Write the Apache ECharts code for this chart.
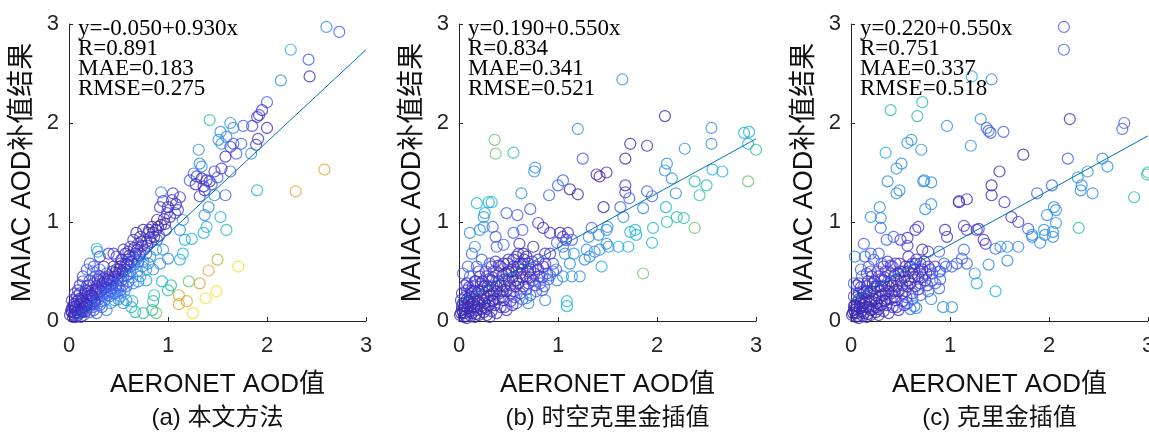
<!DOCTYPE html>
<html>
<head>
<meta charset="utf-8">
<script src="https://cdn.jsdelivr.net/npm/echarts@6/dist/echarts.min.js"></script>
<style>
html,body{margin:0;padding:0;background:#fff;}
#chart{width:1149px;height:435px;}
</style>
</head>
<body>
<div id="chart"></div>
<script>
// ---------------- data ----------------
const panelCaptions = ['(a) 本文方法', '(b) 时空克里金插值', '(c) 克里金插值'];
const xTitle = 'AERONET AOD值';
const yTitle = 'MAIAC AOD补值结果';
const axisTicks = [0, 1, 2, 3];
const intercepts = [-0.050, 0.190, 0.220];
const slopes = [0.930, 0.550, 0.550];
const rValues = [0.891, 0.834, 0.751];
const maeValues = [0.183, 0.341, 0.337];
const rmseValues = [0.275, 0.521, 0.518];
const fitStartX = [0.06, 0.02, 0.0];
const fitEndX = [3, 3, 3];
// colour classes (parula-like, from dense/low-error to sparse/high-error)
const colorClasses = ['#3B2BB3','#4536D8','#3E60EF','#2C8DEA','#1BB2D9','#22BFA2','#6CC36A','#B4BC3E','#E0A52F','#F3E21E'];

// [x, y, colourClass]
const pointsA = [
[2.60,2.97,3],[2.73,2.92,2],[2.24,2.74,4],[2.42,2.64,2],[2.43,2.47,0],[2.14,2.43,3],[2.00,2.21,2],[1.95,2.13,1],[1.90,2.06,1],[1.92,2.08,1],
[2.00,1.95,0],[1.85,1.97,1],[1.76,1.97,2],[1.66,1.95,3],[1.63,2.00,3],[1.53,1.91,3],[1.59,1.86,3],[1.42,2.03,5],[1.91,1.84,1],[1.89,1.78,1],
[1.84,1.69,3],[1.74,1.79,2],[1.69,1.69,2],[1.66,1.79,2],[1.63,1.76,1],[1.58,1.66,1],[1.54,1.79,3],[1.51,1.83,3],[1.63,1.51,2],[1.54,1.54,1],
[1.47,1.51,1],[1.42,1.41,1],[1.39,1.42,0],[1.36,1.36,1],[1.32,1.26,1],[1.31,1.73,3],[1.32,1.59,3],[1.34,1.56,3],[1.22,1.42,2],[1.26,1.49,2],
[1.29,1.46,1],[1.47,1.27,3],[1.58,1.27,2],[1.41,1.15,3],[1.37,1.07,3],[1.53,1.05,4],[1.59,0.92,5],[1.39,0.95,4],[1.36,0.89,4],[1.24,0.83,4],
[1.17,0.82,4],[1.12,0.92,3],[1.15,1.02,3],[1.07,1.09,2],[1.04,1.22,1],[1.05,1.29,1],[1.00,1.15,0],[0.99,1.09,1],[0.92,1.15,1],[0.93,1.30,3],
[0.95,1.21,1],[0.89,1.02,0],[0.84,0.95,0],[0.80,0.89,0],[0.85,0.89,0],[0.75,0.92,0],[0.72,0.85,0],[0.65,0.82,1],[0.68,0.89,0],[0.62,0.75,1],
[0.57,0.68,0],[0.53,0.62,0],[0.48,0.65,1],[0.45,0.68,1],[0.40,0.68,1],[0.31,0.65,1],[0.28,0.73,4],[0.29,0.70,4],[0.21,0.58,2],[0.25,0.55,2],
[0.18,0.52,2],[0.14,0.45,1],[0.31,0.52,2],[0.38,0.48,2],[0.45,0.55,1],[0.52,0.55,0],[0.58,0.58,1],[0.65,0.65,2],[0.72,0.68,2],[0.78,0.68,2],
[0.89,0.82,2],[0.95,0.72,3],[1.00,0.63,3],[0.92,0.58,3],[0.85,0.52,3],[0.78,0.52,3],[0.72,0.45,3],[0.78,0.41,4],[0.94,0.40,4],[0.65,0.38,3],
[0.58,0.35,2],[0.52,0.31,2],[0.45,0.28,2],[0.58,0.21,3],[0.64,0.20,4],[0.63,0.14,4],[0.67,0.09,5],[0.75,0.08,5],[0.84,0.11,5],[0.85,0.20,5],
[0.86,0.26,5],[0.88,0.08,6],[1.00,0.31,5],[1.03,0.36,5],[1.12,0.62,4],[1.15,0.68,4],[1.11,0.26,8],[1.11,0.17,8],[1.19,0.20,8],[1.21,0.40,6],
[1.25,0.08,9],[1.32,0.38,8],[1.41,0.51,8],[1.50,0.62,7],[1.38,0.23,9],[1.49,0.30,9],[1.71,0.55,9],[1.90,1.32,4],[2.29,1.31,8],[2.58,1.53,8],
[1.08,1.18,0],[1.12,1.25,1],[1.02,1.05,0],[1.10,1.12,1],[0.97,0.98,0],[0.90,0.95,0],[0.78,0.80,0],[0.70,0.78,1],[0.82,0.84,1],[0.60,0.70,1],
[0.55,0.72,1],[0.66,0.74,0],[0.74,0.76,0],[1.28,1.38,0],[1.34,1.44,0],[1.37,1.32,1],[1.44,1.38,2],[1.50,1.45,2],
[0.55,0.45,2],[0.62,0.55,2],[0.68,0.62,3],[0.75,0.60,3],[0.82,0.65,3],[0.88,0.72,3],
[0.01,0.06,0],[0.03,0.09,0],[0.04,0.14,1],[0.06,0.08,0],[0.08,0.20,1],[0.03,0.21,1],[0.09,0.11,0],[0.11,0.16,1],[0.13,0.23,1],[0.14,0.09,1],
[0.16,0.13,2],[0.18,0.21,1],[0.16,0.28,1],[0.21,0.26,1],[0.23,0.31,0],[0.25,0.38,1],[0.28,0.35,0],[0.31,0.40,1],[0.35,0.43,0],[0.38,0.38,1],
[0.41,0.41,0],[0.46,0.45,0],[0.50,0.48,0],[0.53,0.41,1],[0.48,0.36,1],[0.43,0.33,2],[0.38,0.30,2],[0.33,0.26,2],[0.28,0.23,1],[0.23,0.20,1],
[0.20,0.14,2],[0.25,0.11,2],[0.31,0.16,2],[0.36,0.21,2],[0.41,0.25,2],[0.46,0.21,3],[0.52,0.25,3],[0.55,0.18,3],[0.38,0.11,3],[0.28,0.08,2],
[0.09,0.31,1],[0.06,0.28,1],[0.11,0.36,1],[0.18,0.35,1],[0.35,0.55,1],[0.31,0.45,1],[0.21,0.41,1],[0.08,0.25,1],[0.13,0.18,1],[0.21,0.09,2],
[0.09,0.06,1],[0.06,0.12,0],[0.12,0.12,0],[0.15,0.19,0],[0.19,0.24,0],[0.22,0.22,1],[0.26,0.29,0],[0.30,0.33,0],[0.33,0.36,0],[0.36,0.40,0],
[0.40,0.44,1],[0.44,0.50,0],[0.48,0.52,0],[0.52,0.58,1],[0.56,0.55,1],[0.60,0.62,0],[0.27,0.45,2],[0.24,0.50,2],[0.14,0.40,2],[0.05,0.17,0],
[0.10,0.22,0],[0.17,0.31,0],[0.26,0.17,2],[0.33,0.20,2],[0.42,0.30,2],[0.47,0.28,2],[0.50,0.34,2],[0.56,0.30,3],[0.60,0.40,2],[0.62,0.50,2],
[0.66,0.57,2],[0.70,0.60,2],[0.58,0.46,2],
[0.02,0.10,0],[0.05,0.06,0],[0.07,0.15,0],[0.10,0.08,1],[0.12,0.20,0],[0.14,0.14,0],[0.17,0.17,0],[0.19,0.28,0],[0.22,0.17,1],[0.24,0.24,0],
[0.27,0.32,0],[0.29,0.27,1],[0.32,0.30,1],[0.34,0.38,0],[0.37,0.34,1],[0.39,0.42,0],[0.42,0.37,1],[0.44,0.41,1],[0.47,0.49,0],[0.49,0.43,1],
[0.51,0.52,0],[0.54,0.50,0],[0.57,0.52,1],[0.59,0.57,0],[0.61,0.66,0],[0.63,0.60,1],[0.67,0.68,0],[0.69,0.72,0],[0.71,0.66,1],[0.73,0.80,0],
[0.76,0.72,1],[0.79,0.76,0],[0.81,0.92,0],[0.83,0.80,1],[0.86,0.85,0],[0.88,0.92,0],[0.91,0.86,1],[0.93,0.97,0],[0.96,1.03,0],[0.98,0.92,1],
[0.03,0.13,1],[0.07,0.04,1],[0.11,0.28,1],[0.15,0.06,2],[0.20,0.36,1],[0.24,0.14,2],[0.29,0.42,1],[0.33,0.14,2],[0.39,0.26,2],[0.44,0.37,2],
[0.49,0.30,2],[0.54,0.36,2],[0.60,0.47,2],[0.64,0.44,3],[0.69,0.50,3],[0.70,0.40,3],[0.74,0.55,3],[0.80,0.58,3],[0.50,0.22,3],[0.42,0.18,3],
[0.36,0.28,2],[0.30,0.22,2],[0.26,0.20,1],[0.17,0.10,1],[0.12,0.04,1],[0.04,0.04,0],[0.08,0.09,0],[0.13,0.10,0],[0.18,0.16,0],[0.23,0.26,0]
];

const pointsB = [
[1.65,2.44,3],[2.08,2.07,0],[0.36,1.83,6],[0.37,1.69,6],[0.55,1.70,5],[1.20,1.94,3],[1.25,1.64,2],[1.73,1.79,0],[1.68,1.64,0],[1.90,1.77,0],
[2.28,1.74,3],[2.55,1.95,3],[2.55,1.79,3],[2.88,1.90,4],[2.93,1.91,4],[2.92,1.79,4],[3.00,1.73,5],[2.92,1.41,6],[2.56,1.53,4],[2.66,1.51,4],
[2.50,1.37,5],[2.38,1.41,5],[2.43,1.27,5],[2.10,1.59,3],[2.08,1.52,3],[2.15,1.44,3],[2.19,1.29,3],[2.09,1.15,4],[2.10,1.00,5],[2.20,1.05,5],
[2.27,1.04,5],[2.38,0.94,6],[1.96,0.94,4],[1.95,0.79,4],[1.86,0.48,6],[1.90,1.31,2],[1.95,1.26,2],[1.86,1.14,3],[1.72,1.24,2],[1.68,1.37,1],
[1.68,1.30,1],[1.46,1.15,0],[1.39,1.48,0],[1.42,1.46,0],[1.49,1.50,0],[1.12,1.33,0],[1.20,1.28,0],[1.05,1.42,2],[1.00,1.37,2],[0.91,1.27,2],
[0.63,1.29,3],[0.77,1.55,3],[0.76,1.51,3],[0.72,1.13,2],[0.59,1.07,2],[0.48,1.09,2],[0.80,0.99,1],[0.85,0.94,0],[0.64,0.92,2],[0.55,0.89,2],
[0.61,0.78,1],[0.45,0.77,2],[0.38,0.75,2],[0.37,0.85,2],[0.34,0.95,2],[0.25,0.95,3],[0.21,0.92,3],[0.26,1.09,4],[0.25,1.05,3],[0.18,1.19,4],
[0.30,1.20,4],[0.33,1.20,4],[0.11,0.89,3],[0.16,0.75,3],[0.13,0.68,2],[0.04,0.48,2],[0.09,0.55,2],[0.75,0.75,0],[0.92,0.68,1],[1.02,0.89,0],
[1.05,0.85,1],[1.10,0.89,1],[1.08,0.82,1],[1.14,0.82,2],[1.05,0.75,2],[1.07,0.68,3],[1.16,0.68,3],[1.12,0.58,3],[1.14,0.45,3],[1.05,0.45,3],
[0.99,0.41,3],[1.09,0.20,4],[1.09,0.15,4],[0.87,0.21,3],[0.70,0.18,3],[0.68,0.23,3],[0.84,0.31,2],[1.29,0.72,3],[1.32,0.65,3],[1.27,0.62,3],
[1.37,0.70,3],[1.44,0.55,4],[1.42,0.72,3],[1.49,0.78,3],[1.49,0.92,3],[1.50,0.95,3],[1.34,0.94,2],[1.41,0.87,3],[1.31,0.85,3],[1.61,0.75,4],
[1.71,0.75,4],[1.73,0.90,4],[1.78,0.92,4],[1.79,0.87,4],[1.51,0.75,3],[1.66,1.05,3],[1.63,1.15,2],[1.22,0.45,3],[0.92,0.89,1],[0.99,0.79,2],
[0.87,0.68,1],
[0.01,0.06,0],[0.03,0.11,0],[0.06,0.08,0],[0.04,0.18,0],[0.09,0.13,0],[0.13,0.08,0],[0.14,0.18,0],[0.11,0.25,0],[0.08,0.31,1],[0.03,0.28,1],
[0.02,0.21,1],[0.18,0.11,0],[0.21,0.18,0],[0.18,0.26,0],[0.23,0.31,0],[0.14,0.35,1],[0.28,0.23,0],[0.26,0.14,0],[0.31,0.20,0],[0.35,0.28,0],
[0.29,0.35,0],[0.33,0.41,1],[0.38,0.35,0],[0.41,0.28,0],[0.36,0.16,1],[0.45,0.21,1],[0.46,0.35,0],[0.50,0.41,0],[0.52,0.28,1],[0.57,0.35,0],
[0.58,0.41,0],[0.62,0.48,0],[0.65,0.35,1],[0.68,0.45,0],[0.72,0.52,0],[0.75,0.41,1],[0.78,0.55,1],[0.85,0.55,1],[0.89,0.48,1],[0.81,0.45,1],
[0.65,0.58,1],[0.55,0.55,1],[0.49,0.58,1],[0.58,0.65,1],[0.68,0.65,0],[0.42,0.55,1],[0.31,0.58,2],[0.23,0.62,2],[0.18,0.55,2],[0.21,0.45,1],
[0.11,0.45,2],[0.08,0.38,1],[0.25,0.09,0],[0.16,0.04,0],[0.08,0.03,0],[0.48,0.11,1],[0.58,0.18,2],[0.38,0.08,1],[0.31,0.04,1],[0.95,0.58,2],
[0.80,0.62,1],[0.06,0.15,0],[0.10,0.20,0],[0.15,0.22,0],[0.20,0.30,0],[0.25,0.26,0],[0.30,0.30,0],[0.34,0.35,0],[0.40,0.40,0],[0.44,0.46,0],
[0.48,0.48,0],[0.53,0.50,0],[0.60,0.55,0],[0.64,0.52,0],[0.70,0.58,1],[0.40,0.22,1],[0.44,0.30,0],[0.55,0.30,1],[0.62,0.28,1],[0.70,0.38,1],
[0.76,0.48,1],[0.82,0.38,2],[0.90,0.42,2],[0.95,0.50,2],[0.12,0.05,0],[0.20,0.06,0],[0.05,0.04,0],[0.28,0.45,1],[0.35,0.50,1],[0.16,0.40,1],
[0.06,0.36,1],[0.24,0.40,0],[0.28,0.12,0],[0.33,0.10,1],[0.42,0.14,1],[0.52,0.20,1],
[0.02,0.08,0],[0.05,0.12,0],[0.07,0.05,0],[0.09,0.18,0],[0.11,0.10,0],[0.12,0.30,1],[0.15,0.14,0],[0.17,0.07,0],[0.19,0.20,0],[0.22,0.12,0],
[0.24,0.22,0],[0.26,0.35,0],[0.28,0.06,0],[0.30,0.16,0],[0.32,0.26,0],[0.34,0.44,1],[0.36,0.22,0],[0.38,0.30,0],[0.40,0.48,1],[0.42,0.36,0],
[0.44,0.24,0],[0.46,0.42,0],[0.48,0.30,0],[0.50,0.50,0],[0.52,0.36,0],[0.54,0.44,0],[0.56,0.24,1],[0.58,0.50,0],[0.60,0.38,0],[0.62,0.58,0],
[0.64,0.44,0],[0.66,0.62,0],[0.68,0.32,1],[0.70,0.50,0],[0.72,0.44,0],[0.74,0.60,1],[0.77,0.36,1],[0.80,0.52,1],[0.84,0.44,1],[0.87,0.58,1],
[0.03,0.15,0],[0.06,0.24,0],[0.10,0.34,1],[0.13,0.28,0],[0.17,0.40,1],[0.20,0.50,1],[0.22,0.38,0],[0.27,0.50,1],[0.30,0.42,1],[0.33,0.55,1],
[0.37,0.60,1],[0.40,0.56,0],[0.45,0.58,0],[0.50,0.62,1],[0.55,0.62,0],[0.60,0.68,1],[0.65,0.68,0],[0.16,0.30,0],[0.12,0.16,0],[0.08,0.22,0],
[0.04,0.09,0],[0.18,0.14,0],[0.26,0.18,0],[0.34,0.20,0],[0.46,0.14,1],[0.54,0.16,1],[0.64,0.22,2],[0.72,0.26,2],[0.78,0.30,2],[0.86,0.35,2],
[0.92,0.46,2],[0.98,0.52,2]
];

const pointsC = [
[2.15,2.97,2],[2.15,2.74,2],[1.22,2.47,4],[1.42,2.44,3],[0.72,2.21,5],[0.40,2.13,5],[0.67,2.07,5],[0.97,1.97,3],[1.31,2.04,3],[1.37,1.95,2],
[1.39,1.92,2],[1.41,1.90,2],[1.54,1.91,2],[1.21,1.77,3],[2.21,2.04,0],[2.76,2.00,2],[2.74,1.94,2],[1.74,1.68,0],[2.19,1.64,2],[2.54,1.64,3],
[2.59,1.56,3],[2.39,1.51,3],[2.29,1.45,3],[2.33,1.37,3],[2.32,1.32,3],[2.44,1.29,3],[3.00,1.50,5],[2.99,1.48,5],[2.86,1.25,5],[1.50,1.51,0],
[1.42,1.37,0],[1.42,1.27,0],[1.55,1.20,1],[1.17,1.23,0],[1.09,1.20,0],[1.62,1.05,1],[1.69,1.00,1],[1.79,0.93,2],[1.88,1.29,2],[2.03,1.37,2],
[1.98,1.07,3],[2.05,1.15,3],[2.07,1.12,3],[2.07,0.99,3],[2.04,0.90,3],[2.04,0.85,3],[1.95,0.92,3],[1.96,0.87,3],[1.83,0.87,3],[1.83,0.85,3],
[1.91,0.79,3],[2.30,0.94,5],[1.51,0.75,3],[1.58,0.75,3],[1.69,0.75,3],[1.58,0.61,3],[1.39,0.57,3],[1.25,0.48,3],[1.27,0.38,4],[1.46,0.30,4],
[1.02,0.14,3],[0.93,0.14,3],[0.64,0.15,3],[0.66,0.13,3],[0.81,0.22,3],[0.89,0.33,2],[0.35,1.70,4],[0.37,1.41,3],[0.46,1.54,3],[0.51,1.59,3],
[0.46,1.29,3],[0.49,1.32,3],[0.57,1.80,3],[0.61,1.83,3],[0.71,1.73,3],[0.74,1.42,3],[0.73,1.41,3],[0.81,1.40,3],[0.81,1.18,3],[0.75,1.13,3],
[0.29,1.15,3],[0.20,1.05,3],[0.30,1.04,3],[0.30,0.94,2],[0.13,0.78,2],[0.04,0.65,3],[0.03,0.38,2],[1.09,1.21,1],[0.95,0.92,0],[0.97,0.85,1],
[1.14,0.96,1],[1.17,0.92,1],[1.27,0.92,1],[1.34,0.82,1],[1.36,0.78,1],[1.46,0.73,2],[1.29,0.93,1],[0.65,0.92,1],[0.68,0.95,1],[0.57,0.84,1],
[0.50,0.82,1],[0.43,0.85,2],[0.36,0.82,2],[0.28,0.68,2],[0.20,0.68,2],[0.14,0.65,2],[0.57,0.76,1],[0.72,0.72,0],[0.78,0.70,1],[0.89,0.70,2],
[0.94,0.58,2],[1.02,0.55,2],[1.14,0.72,2],[1.12,0.63,2],[1.07,0.58,2],[1.17,0.58,2],[0.82,0.48,2],[0.89,0.50,2],
[0.01,0.06,0],[0.03,0.11,0],[0.06,0.08,0],[0.04,0.16,0],[0.09,0.13,0],[0.13,0.08,0],[0.14,0.18,0],[0.11,0.23,0],[0.08,0.28,1],[0.03,0.25,1],
[0.20,0.11,0],[0.21,0.20,0],[0.18,0.28,0],[0.23,0.33,0],[0.16,0.35,1],[0.28,0.23,0],[0.26,0.14,0],[0.31,0.20,0],[0.35,0.28,0],[0.30,0.35,0],
[0.33,0.41,1],[0.38,0.35,0],[0.41,0.28,0],[0.36,0.16,1],[0.45,0.21,1],[0.46,0.35,0],[0.50,0.41,0],[0.52,0.28,1],[0.57,0.35,0],[0.58,0.41,0],
[0.62,0.48,0],[0.65,0.35,1],[0.68,0.45,0],[0.72,0.52,0],[0.75,0.41,1],[0.78,0.55,1],[0.85,0.55,1],[0.82,0.41,2],[0.65,0.58,1],[0.55,0.55,1],
[0.49,0.58,1],[0.58,0.65,1],[0.42,0.55,1],[0.31,0.58,2],[0.23,0.62,2],[0.18,0.55,2],[0.21,0.45,1],[0.11,0.45,2],[0.08,0.38,1],[0.25,0.09,0],
[0.16,0.04,0],[0.08,0.03,0],[0.48,0.11,1],[0.57,0.18,2],[0.38,0.08,1],
[0.06,0.15,0],[0.10,0.20,0],[0.15,0.22,0],[0.20,0.30,0],[0.25,0.26,0],[0.30,0.30,0],[0.34,0.35,0],[0.40,0.40,0],[0.44,0.46,0],[0.48,0.48,0],
[0.53,0.50,0],[0.60,0.55,0],[0.64,0.52,0],[0.70,0.58,1],[0.40,0.22,1],[0.44,0.30,0],[0.55,0.30,1],[0.62,0.28,1],[0.70,0.38,1],[0.76,0.48,1],
[0.90,0.42,2],[0.12,0.05,0],[0.20,0.06,0],[0.05,0.04,0],[0.28,0.45,1],[0.35,0.50,1],[0.06,0.36,1],[0.24,0.40,0],[0.28,0.12,0],[0.33,0.10,1],
[0.42,0.14,1],[0.52,0.20,1],[0.10,0.52,2],[0.16,0.48,1],
[0.02,0.08,0],[0.05,0.12,0],[0.07,0.05,0],[0.09,0.18,0],[0.11,0.10,0],[0.12,0.30,1],[0.15,0.14,0],[0.17,0.07,0],[0.19,0.20,0],[0.22,0.12,0],
[0.24,0.22,0],[0.26,0.35,0],[0.28,0.06,0],[0.30,0.16,0],[0.32,0.26,0],[0.34,0.44,1],[0.36,0.22,0],[0.38,0.30,0],[0.40,0.48,1],[0.42,0.36,0],
[0.44,0.24,0],[0.46,0.42,0],[0.48,0.30,0],[0.50,0.50,0],[0.52,0.36,0],[0.54,0.44,0],[0.56,0.24,1],[0.58,0.50,0],[0.60,0.38,0],[0.62,0.58,1],
[0.64,0.44,0],[0.66,0.62,1],[0.68,0.32,1],[0.70,0.50,1],[0.72,0.44,1],[0.74,0.60,1],[0.77,0.36,1],[0.80,0.52,1],
[0.03,0.15,0],[0.06,0.24,0],[0.10,0.34,1],[0.13,0.28,0],[0.17,0.40,1],[0.20,0.50,1],[0.22,0.38,0],[0.27,0.50,1],[0.30,0.42,1],[0.33,0.55,1],
[0.37,0.60,1],[0.40,0.56,1],[0.45,0.58,1],[0.16,0.30,0],[0.12,0.16,0],[0.08,0.22,0],[0.04,0.09,0],[0.18,0.14,0],[0.26,0.18,0],[0.34,0.20,0],
[0.46,0.14,1],[0.54,0.16,1],[0.62,0.22,2],[0.70,0.26,2],[0.78,0.30,2],[0.85,0.38,2],[0.90,0.50,2],[0.96,0.55,2],[0.60,0.12,2]
];

const panelPoints = [pointsA, pointsB, pointsC];

// ---------------- layout ----------------
const gridLeft = [69, 459, 851];
const gridTop = 24, gridSize = 297;
const sans = "'Liberation Sans', Arial, 'Noto Sans CJK SC', sans-serif";
const serif = "'Liberation Serif', 'Times New Roman', serif";
const ink = '#262626';

const grids = [], xAxes = [], yAxes = [], series = [], graphics = [];
for (let i = 0; i < 3; i++) {
  grids.push({left: gridLeft[i], top: gridTop, width: gridSize, height: gridSize,
              containLabel: false, outerBoundsMode: 'none'});
  const axisCommon = {
    type: 'value', min: axisTicks[0], max: axisTicks[axisTicks.length - 1], interval: 1,
    gridIndex: i, splitLine: {show: false},
    axisLine: {show: true, lineStyle: {color: ink, width: 1}},
    axisTick: {show: true, inside: true, length: 4, lineStyle: {color: ink}},
    nameLocation: 'middle'
  };
  xAxes.push(Object.assign({}, axisCommon, {
    name: xTitle, nameGap: 51,
    axisLabel: {fontFamily: sans, fontSize: 22, color: ink, margin: 14},
    nameTextStyle: {fontFamily: sans, fontSize: 26, color: '#111'}
  }));
  yAxes.push(Object.assign({}, axisCommon, {
    name: yTitle, nameGap: 33, nameRotate: 90,
    axisLabel: {fontFamily: sans, fontSize: 22, color: ink, margin: 10},
    nameTextStyle: {fontFamily: sans, fontSize: 27, color: '#111'}
  }));
  series.push({
    type: 'scatter', xAxisIndex: i, yAxisIndex: i, symbol: 'circle', symbolSize: 11,
    clip: false, silent: true,
    itemStyle: {color: 'rgba(0,0,0,0)', borderWidth: 1.2},
    data: panelPoints[i].map(p => ({value: [p[0], p[1]], itemStyle: {borderColor: colorClasses[p[2]]}}))
  });
  const x0 = fitStartX[i], x1 = fitEndX[i];
  series.push({
    type: 'line', xAxisIndex: i, yAxisIndex: i, showSymbol: false, silent: true, z: 5, clip: false,
    lineStyle: {color: '#0072BD', width: 1},
    data: [[x0, intercepts[i] + slopes[i] * x0], [x1, intercepts[i] + slopes[i] * x1]]
  });
  const eq = 'y=' + intercepts[i].toFixed(3) + '+' + slopes[i].toFixed(3) + 'x';
  graphics.push({
    type: 'text', left: gridLeft[i] + 9, top: 17,
    style: {
      text: [eq, 'R=' + rValues[i].toFixed(3), 'MAE=' + maeValues[i].toFixed(3), 'RMSE=' + rmseValues[i].toFixed(3)].join('\n'),
      fontFamily: serif, fontSize: 23, fill: '#000', lineHeight: 20
    }, z: 10
  });
  graphics.push({
    type: 'text', x: gridLeft[i] + gridSize / 2, y: 418,
    style: {text: panelCaptions[i], fontFamily: sans, fontSize: 24, fill: '#111', align: 'center', verticalAlign: 'middle'}
  });
}

const chart = echarts.init(document.getElementById('chart'), null, {renderer: 'canvas'});
chart.setOption({
  animation: false,
  backgroundColor: '#fff',
  grid: grids, xAxis: xAxes, yAxis: yAxes, series: series, graphic: graphics
});
</script>
</body>
</html>
